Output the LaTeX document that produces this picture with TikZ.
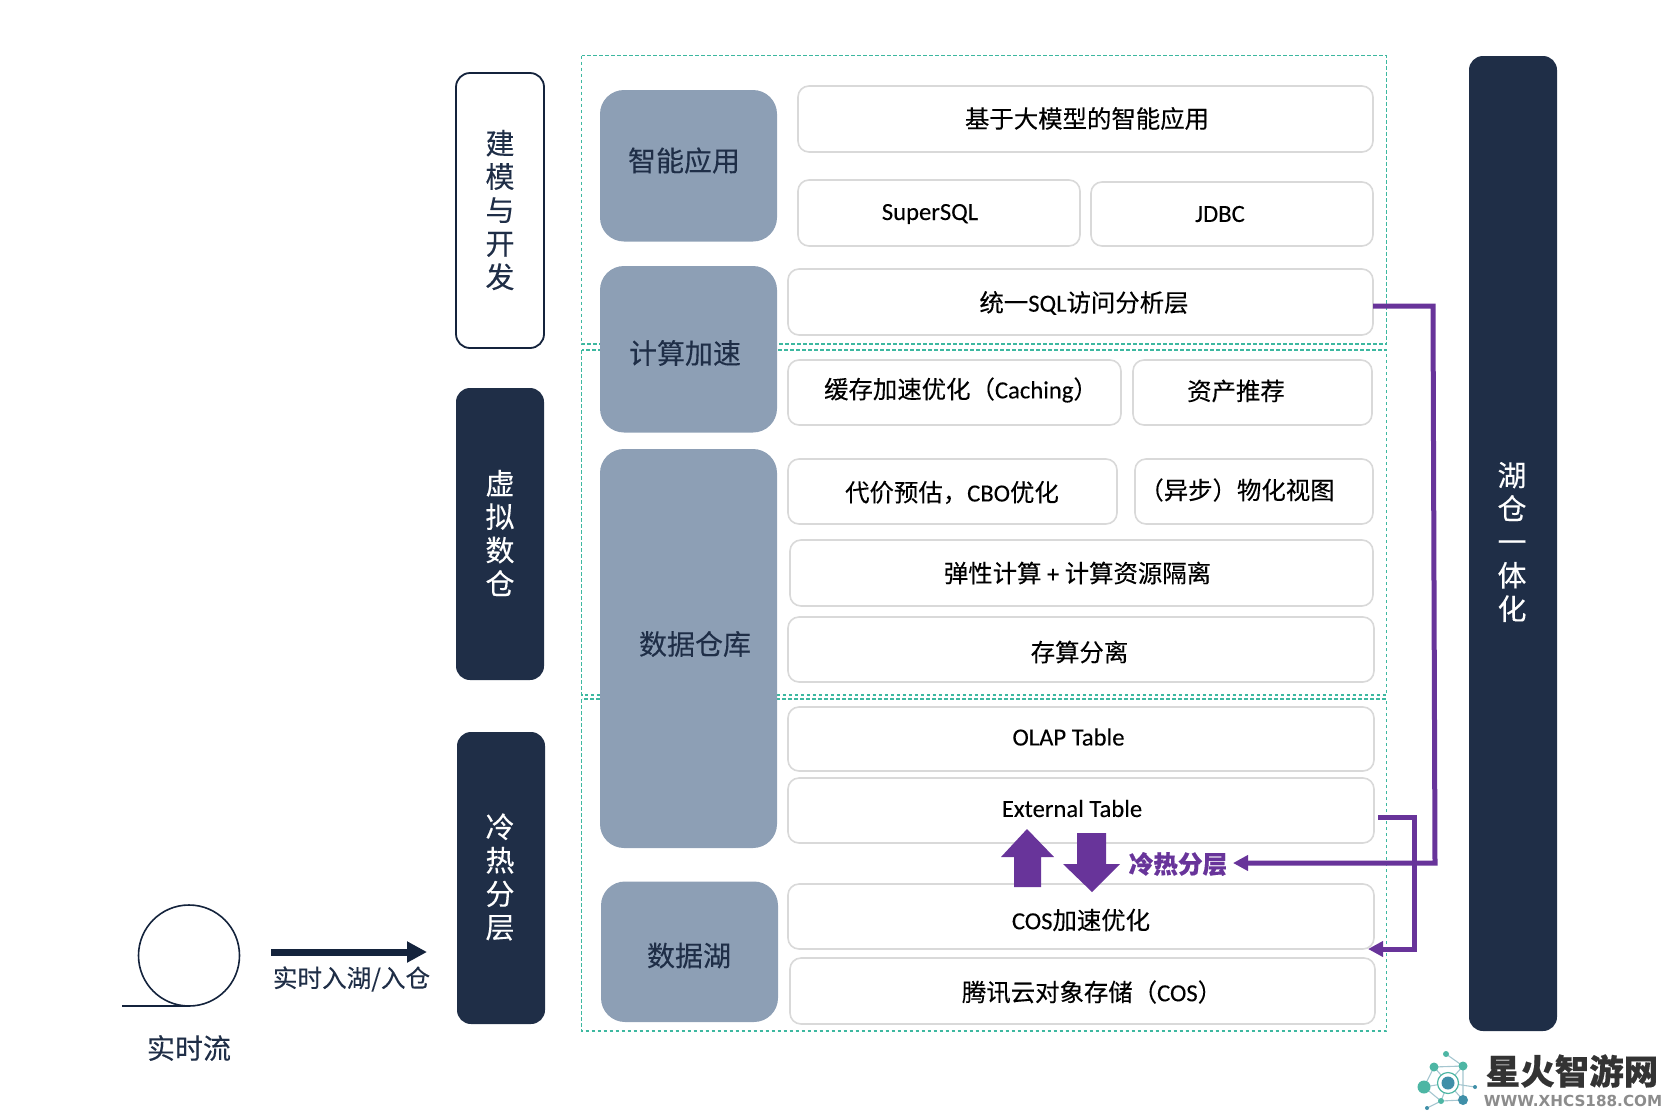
\documentclass[tikz,border=0pt]{standalone}
\usepackage{fontspec}
\newfontfamily\cjk[FakeBold=0.2,BoldFeatures={FakeBold=0.5}]{Noto Sans CJK SC}
\newfontfamily\lat[FakeBold=0.15,Scale=1.01]{Carlito}
\usetikzlibrary{arrows.meta}
\definecolor{navy}{HTML}{1F2E47}
\definecolor{darknavy}{HTML}{14233C}
\definecolor{pill}{HTML}{8D9FB5}
\definecolor{edgegray}{HTML}{D9D9D9}
\definecolor{zoneteal}{HTML}{3DB8A0}
\definecolor{purp}{HTML}{68349A}
\definecolor{logoteal}{HTML}{4DB6A4}
\definecolor{logoblue}{HTML}{3F8FA8}
\definecolor{logoline}{HTML}{A5C6D0}
\newcommand{\rbox}[8]{%
  \pgfmathsetmacro{\cx}{(#2+#4)/2+0.5}\pgfmathsetmacro{\cy}{(#3+#5)/2}%
  \pgfmathsetmacro{\bw}{#4-#2-1}\pgfmathsetmacro{\bh}{#5-#3}%
  \node[whitebox,minimum width=\bw pt,minimum height=\bh pt] (#1) at (\cx,\cy) {};
  \node[boxtext] (#1-t) at (#6,#7) {#8};
}
\newcommand{\cbox}[8]{%
  \pgfmathsetmacro{\cx}{(#2+#4)/2}\pgfmathsetmacro{\cy}{(#3+#5)/2}%
  \pgfmathsetmacro{\bw}{#4-#2}\pgfmathsetmacro{\bh}{#5-#3}%
  \node[pillbox,minimum width=\bw pt,minimum height=\bh pt] (#1) at (\cx,\cy) {};
  \node[pilltext] (#1-t) at (#6,#7) {#8};
}
\newcommand{\sidebox}[9]{%
  \pgfmathsetmacro{\cx}{(#3+#5)/2}\pgfmathsetmacro{\cy}{(#4+#6)/2}%
  \pgfmathsetmacro{\bw}{#5-#3}\pgfmathsetmacro{\bh}{#6-#4}%
  \node[#2,minimum width=\bw pt,minimum height=\bh pt] (#1) at (\cx,\cy) {};
  \node[#7] (#1-t) at (#8,#9) {\sidelabel};
}
\tikzset{
  x=1pt,y=-1pt,
  whitebox/.style={draw=edgegray,line width=1.6pt,rounded corners=11pt,fill=white,inner sep=0pt,outer sep=0pt},
  boxtext/.style={inner sep=0pt,text=black,font={\cjk\fontsize{24.4}{28}\selectfont}},
  pillbox/.style={fill=pill,rounded corners=24pt,inner sep=0pt,outer sep=0pt},
  pilltext/.style={inner sep=0pt,text=navy,font={\cjk\fontsize{28}{32}\selectfont}},
  darkside/.style={fill=navy,rounded corners=14pt,inner sep=0pt,outer sep=0pt},
  lightside/.style={draw=darknavy,fill=white,line width=1.8pt,rounded corners=14pt,inner sep=0pt,outer sep=0pt},
  sidewhite/.style={inner sep=0pt,align=center,text=white,font={\cjk\fontsize{29}{33.4}\selectfont}},
  sidedark/.style={inner sep=0pt,align=center,text=navy,font={\cjk\fontsize{29}{33.4}\selectfont}},
  zone/.style={draw=zoneteal,line width=1.2pt,dash pattern=on 3.5pt off 2.5pt},
  purpleline/.style={draw=purp,line width=5pt},
  purplehead/.style={-{Triangle[length=15pt,width=15pt]}},
  blockarrow/.style={fill=purp,draw=none},
  dn/.style={circle,inner sep=0pt,outer sep=0pt},
  logoedge/.style={draw=logoline,line width=1.1pt},
}
\begin{document}
\begin{tikzpicture}
\useasboundingbox (0,0) rectangle (1666,1112);
% zones
\draw[zone] (581.5,55.5) rectangle (1386.5,344);
\draw[zone] (581.5,350) rectangle (1386.5,695);
\draw[zone] (581.5,699) rectangle (1386.5,1031);
% side columns
\def\sidelabel{建\\模\\与\\开\\发}
\sidebox{sa}{lightside}{456}{73}{544}{348}{sidedark}{500}{210}
\def\sidelabel{虚\\拟\\数\\仓}
\sidebox{sb}{darkside}{456}{388}{544}{680}{sidewhite}{500}{533}
\def\sidelabel{冷\\热\\分\\层}
\sidebox{sc}{darkside}{457}{732}{545}{1024}{sidewhite}{500}{877}
\def\sidelabel{湖\\仓\\一\\体\\化}
\sidebox{sd}{darkside}{1469}{56}{1557}{1031}{sidewhite}{1512}{542}
% category pills
\cbox{p1}{600}{90}{777}{241.5}{684}{160.5}{智能应用}
\cbox{p2}{600}{266}{777}{432.5}{685}{353}{计算加速}
\cbox{p3}{600}{449}{777}{848}{695}{644}{数据仓库}
\cbox{p4}{601}{881.5}{778}{1022}{689}{955.5}{数据湖}
% boxes
\rbox{b1}{797}{86}{1373}{152}{1087}{118.5}{基于大模型的智能应用}
\rbox{b2}{797}{180}{1080}{246}{930}{214}{\lat SuperSQL}
\rbox{b3}{1090}{182}{1373}{246}{1220}{214}{\lat JDBC}
\rbox{b4}{787}{269}{1373}{335}{1084}{303}{统一{\lat SQL}访问分析层}
\rbox{b5}{787}{360}{1121}{425}{961}{390}{缓存加速优化（{\lat Caching}）}
\rbox{b6}{1132}{360}{1372}{425}{1236}{391}{资产推荐}
\rbox{b7}{787}{459}{1117}{524}{952}{492.5}{代价预估，{\lat CBO}优化}
\rbox{b8}{1134}{459}{1373}{524}{1237}{490}{（异步）物化视图}
\rbox{b9}{789}{540}{1373}{606}{1077.5}{573}{弹性计算 {\lat +} 计算资源隔离}
\rbox{b10}{787}{617}{1374}{682}{1079.5}{652}{存算分离}
\rbox{b11}{787}{707}{1374}{771}{1068.5}{737}{\lat OLAP Table}
\rbox{b12}{787}{778}{1374}{843}{1072}{808.5}{\lat External Table}
\rbox{b13}{787}{884}{1374}{949}{1081}{920}{{\lat COS}加速优化}
\rbox{b14}{789}{958}{1375}{1024}{1092}{992}{腾讯云对象存储（{\lat COS}）}
% tier arrows
\fill[blockarrow] (1027,829) -- (1054,857) -- (1041,857) -- (1041,887) -- (1014,887) -- (1014,857) -- (1001,857) -- cycle;
\fill[blockarrow] (1077,833) -- (1106,833) -- (1106,864) -- (1120,864) -- (1092,892) -- (1063,864) -- (1077,864) -- cycle;
\node[inner sep=0pt,text=purp,font={\cjk\bfseries\fontsize{24.6}{28}\selectfont}] (tier) at (1178,864) {冷热分层};
% purple connectors
\coordinate (c1) at (1433,306);
\coordinate (c2) at (1435,863);
\coordinate (c3) at (1414,817);
\coordinate (c4) at (1414,949);
\coordinate (c5) at (1373,306);
\coordinate (c6) at (1378,817);
\coordinate (c7) at (1233,863);
\coordinate (c8) at (1368,949);
\draw[purpleline,purplehead] (c5) -- (c1) -- (c2) -- (c7);
\draw[purpleline,purplehead] (c6) -- (c3) -- (c4) -- (c8);
% real-time stream
\node[circle,draw=darknavy,line width=1.6pt,minimum size=101pt,inner sep=0pt,outer sep=0pt] (stream) at (189,955.5) {};
\coordinate (sl) at (122,1006);
\draw[darknavy,line width=1.6pt] (sl) -- (stream.south);
\coordinate (a1) at (271,952);
\coordinate (a2) at (427,952);
\draw[darknavy,line width=7pt,-{Triangle[length=20pt,width=20pt]}] (a1) -- (a2);
\node[inner sep=0pt,text=navy,font={\cjk\fontsize{24.6}{28}\selectfont}] (rt) at (351.5,979) {实时入湖/入仓};
\node[inner sep=0pt,text=navy,font={\cjk\fontsize{28}{32}\selectfont}] (st) at (189,1048) {实时流};
% logo
\coordinate (l9c) at (1448,1083);
\coordinate (l1c) at (1446,1054);
\coordinate (l2c) at (1463,1066);
\coordinate (l3c) at (1434,1067);
\coordinate (l4c) at (1424,1087);
\coordinate (l5c) at (1463,1100);
\coordinate (l6c) at (1441,1101);
\coordinate (l7c) at (1475,1087);
\coordinate (l8c) at (1427,1108);
\draw[logoedge] (l1c) -- (l2c) -- (l3c) -- (l4c) -- (l6c) -- (l5c) -- (l2c) (l6c) -- (l8c) (l2c) -- (l9c) (l3c) -- (l9c) (l4c) -- (l9c) (l6c) -- (l9c) (l5c) -- (l9c) (l9c) -- (l7c);
\node[dn,fill=logoteal,minimum size=6pt] (l1) at (l1c) {};
\node[dn,fill=logoteal,minimum size=9pt] (l2) at (l2c) {};
\node[dn,fill=logoteal,minimum size=9pt] (l3) at (l3c) {};
\node[dn,fill=logoteal,minimum size=13pt] (l4) at (l4c) {};
\node[dn,fill=logoblue,minimum size=10pt] (l5) at (l5c) {};
\node[dn,fill=logoteal,minimum size=6pt] (l6) at (l6c) {};
\node[dn,fill=logoblue,minimum size=4pt] (l7) at (l7c) {};
\node[dn,fill=logoblue,minimum size=4pt] (l8) at (l8c) {};
\node[dn,draw=logoteal,line width=1.2pt,fill=white,minimum size=21pt] (l9) at (l9c) {};
\node[dn,fill=logoblue,minimum size=13pt] (l10) at (l9c) {};
\node[inner sep=0pt,text=black!80,font={\cjk\bfseries\fontsize{34.5}{38}\selectfont}] (lt1) at (1572,1071) {星火智游网};
\node[inner sep=0pt,text=black!45,font={\fontspec{DejaVu Sans}\bfseries\fontsize{15.2}{18}\selectfont}] (lt2) at (1573,1101) {WWW.XHCS188.COM};
\end{tikzpicture}
\end{document}
